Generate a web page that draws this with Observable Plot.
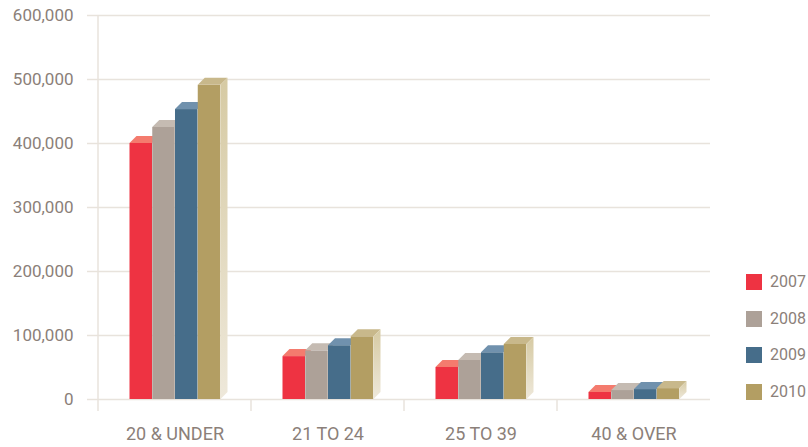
<!DOCTYPE html>
<html>
<head>
<meta charset="utf-8">
<script src="https://cdn.jsdelivr.net/npm/d3@7"></script>
<script src="https://cdn.jsdelivr.net/npm/@observablehq/plot@0.6"></script>
<style>
  html, body { margin: 0; padding: 0; background: #fff; }
  #wrap { position: relative; width: 808px; height: 447px; font-family: Roboto, "Noto Sans", sans-serif; }
  #legend { position: absolute; left: 746px; top: 274px; }
  .row { display: flex; align-items: center; height: 16px; margin-bottom: 20.5px; }
  .sw { width: 16px; height: 16px; margin-right: 8px; }
  .lab { font-size: 16px; color: #8B8079; line-height: 16px; }
</style>
</head>
<body>
<div id="wrap"></div>
<script>
// ---- data ----
const categories = ["20 & UNDER", "21 TO 24", "25 TO 39", "40 & OVER"];
const years = ["2007", "2008", "2009", "2010"];
const v2007 = [400000, 67000, 50000, 11000];
const v2008 = [425000, 76000, 61000, 14000];
const v2009 = [453000, 84000, 73000, 15500];
const v2010 = [491000, 98000, 86000, 17000];
const yTicks = [0, 100000, 200000, 300000, 400000, 500000, 600000];

const frontColors = ["#EE3342", "#ADA198", "#466D8A", "#B39E63"];
const topColors = ["#F47B6E", "#C5BBB2", "#7091AD", "#C8B88B"];

const series = [v2007, v2008, v2009, v2010];
const rows = [];
years.forEach((yr, j) => categories.forEach((c, i) => rows.push({category: c, year: yr, j, value: series[j][i]})));

// ---- layout ----
const W = 808, H = 447;
const mL = 97, mR = 98, mT = 15, mB = 48;
const band = (W - mL - mR) / categories.length;
const OFF = 31.5, BW = 22.75, D = 7;
const textColor = "#8B8079", gridColor = "#E8E3DC";
const ns = "http://www.w3.org/2000/svg";

function el(name, attrs) {
  const e = document.createElementNS(ns, name);
  for (const k in attrs) e.setAttribute(k, attrs[k]);
  return e;
}

// top faces (and optional side face) of series j
function faces(j) {
  return (index, scales) => {
    const g = el("g", {});
    const y0 = scales.y(0);
    categories.forEach((c, i) => {
      const x0 = scales.x(c) + OFF + j * BW, x1 = x0 + BW;
      const y = scales.y(series[j][i]);
      g.appendChild(el("path", {
        d: `M${x0},${y}L${x1},${y}L${x1 + D},${y - D}L${x0 + D},${y - D}Z`,
        fill: topColors[j]
      }));
      if (j === years.length - 1) {
        g.appendChild(el("path", {
          d: `M${x1},${y}L${x1 + D},${y - D}L${x1 + D},${y0 - D}L${x1},${y0}Z`,
          fill: "url(#sideGrad)"
        }));
      }
    });
    return g;
  };
}

// separators and vertical axis line
function frameLines(index, scales) {
  const g = el("g", {stroke: gridColor, "stroke-width": 1.5});
  const y0 = scales.y(0), yTop = scales.y(600000);
  const xa = scales.x(categories[0]);
  g.appendChild(el("line", {x1: xa, x2: xa, y1: yTop, y2: y0 + 12}));
  categories.slice(1).forEach(c => {
    const x = scales.x(c);
    g.appendChild(el("line", {x1: x, x2: x, y1: y0, y2: y0 + 12}));
  });
  return g;
}

function defs() {
  const d = el("defs", {});
  const lg = el("linearGradient", {id: "sideGrad", x1: 0, y1: 0, x2: 0, y2: 1});
  lg.appendChild(el("stop", {offset: "0%", "stop-color": "#D6CAA3"}));
  lg.appendChild(el("stop", {offset: "100%", "stop-color": "#EEE8DA"}));
  d.appendChild(lg);
  return d;
}

const marks = [
  defs,
  Plot.gridY(yTicks, {stroke: gridColor, strokeOpacity: 1, strokeWidth: 1.5}),
  Plot.axisY(yTicks, {tickSize: 10, tickPadding: 14, stroke: gridColor, strokeWidth: 1.5, fill: textColor,
    fontSize: 17, tickFormat: d3.format(","), label: null}),
  Plot.axisX({tickSize: 0, tickPadding: 28, fill: textColor, fontSize: 18, label: null}),
  frameLines
];
years.forEach((yr, j) => {
  marks.push(Plot.barY(rows.filter(r => r.j === j), {
    x: "category", y: "value", fill: frontColors[j],
    insetLeft: OFF + j * BW, insetRight: band - OFF - (j + 1) * BW
  }));
  marks.push(faces(j));
});

const chart = Plot.plot({
  width: W, height: H,
  marginLeft: mL, marginRight: mR, marginTop: mT, marginBottom: mB,
  style: {fontFamily: "Roboto, 'Noto Sans', sans-serif", color: textColor, background: "#fff"},
  x: {domain: categories, padding: 0},
  y: {domain: [0, 600000]},
  marks
});
document.getElementById("wrap").appendChild(chart);

// legend
const legend = document.createElement("div");
legend.id = "legend";
years.forEach((yr, j) => {
  const row = document.createElement("div");
  row.className = "row";
  const sw = document.createElement("div");
  sw.className = "sw";
  sw.style.background = frontColors[j];
  const lab = document.createElement("span");
  lab.className = "lab";
  lab.textContent = yr;
  row.appendChild(sw); row.appendChild(lab);
  legend.appendChild(row);
});
document.getElementById("wrap").appendChild(legend);
</script>
</body>
</html>
